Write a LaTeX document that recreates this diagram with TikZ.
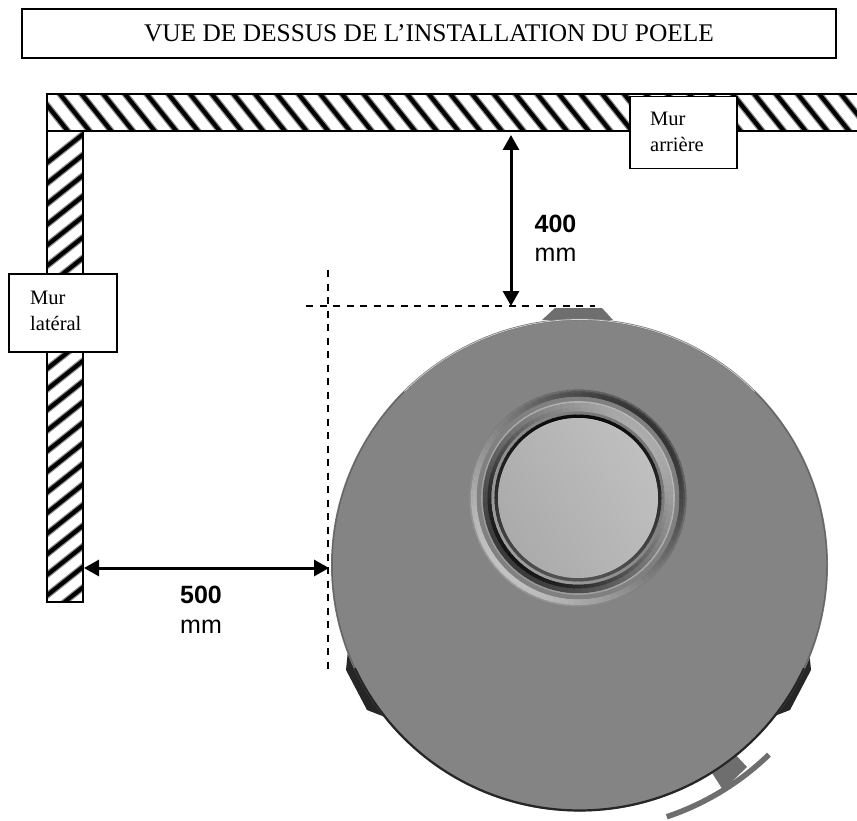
\documentclass[tikz,border=0pt]{standalone}
\usepackage{fontspec}
\setmainfont{Liberation Serif}
\newfontfamily\arialf{Liberation Sans}
\usetikzlibrary{arrows.meta}
\definecolor{stove}{HTML}{848484}
\definecolor{tabc}{HTML}{6E6E6E}
\newcommand{\rimarc}[4]{\draw[#1,line width=#2pt,line cap=round] plot[domain=#3:#4,samples=80] ({579.5+247.5*cos(\x)},{565+245.5*sin(\x)});}
% radius, width, base darkness, amplitude, direction of darkest part
\newcommand{\shadedring}[5]{\foreach \a in {0,4,...,356}{\pgfmathsetmacro\shadeval{#3+#4*cos(\a-#5)}\draw[black!\shadeval,line width=#2pt] ({578+#1*cos(\a)},{498+#1*sin(\a)}) -- ({578+#1*cos(\a+4.6)},{498+#1*sin(\a+4.6)});}}
\tikzset{
  boxnode/.style={draw=black,line width=1.5pt,fill=white,inner sep=0pt,align=left},
  hatchsoft/.style={line width=6.5pt,black!45},
  hatchline/.style={line width=4pt,black},
  wallframe/.style={draw=black,line width=1.5pt},
  dim/.style={line width=3pt,{Triangle[length=15pt,width=16pt]}-{Triangle[length=15pt,width=16pt]}},
  guide/.style={black,line width=1.5pt,dash pattern=on 7pt off 6.5pt},
  dimtext/.style={font=\arialf\fontsize{25}{30}\selectfont,inner sep=0pt},
  labeltext/.style={anchor=west,inner sep=0pt,align=left,font=\fontsize{20.5}{26}\selectfont}
}
\begin{document}
\begin{tikzpicture}[x=1pt,y=-1pt]
\useasboundingbox (0,0) rectangle (857,821);
% walls
\begin{scope}
\clip (47,94) rectangle (857,131);
\foreach \i in {0,...,40} {
  \draw[hatchsoft] ({35+\i*21.7},90) -- ({35+\i*21.7+36},135);
  \draw[hatchline] ({35+\i*21.7},90) -- ({35+\i*21.7+36},135);
}
\end{scope}
\begin{scope}
\clip (47,131) rectangle (83,602);
\foreach \i in {0,...,24} {
  \draw[hatchsoft] (43,{166+\i*20.6}) -- (87,{166+\i*20.6-35});
  \draw[hatchline] (43,{166+\i*20.6}) -- (87,{166+\i*20.6-35});
}
\end{scope}
\draw[wallframe] (857,94) -- (47,94) -- (47,602) -- (83,602) -- (83,131) -- (857,131);
\draw[wallframe] (47,131) -- (83,131);
% stove accessories
\fill[tabc] (542,320) -- (555,308) -- (602,308) -- (613,320) -- cycle;
\fill[black!85] (348,650) -- (346,670) -- (367,710) -- (385,717) -- (400,700) -- cycle;
\fill[black!85] (809,650) -- (811,670) -- (790,710) -- (772,717) -- (757,700) -- cycle;
\fill[tabc] (733,752) -- (747,767) -- (723,790) -- (712,773) -- cycle;
\draw[tabc,line width=5.5pt] plot[domain=46:71.4,samples=30] ({580+272*cos(\x)},{559+272*sin(\x)});
% stove body
\fill[stove] (579.5,565) ellipse [x radius=248.5,y radius=246.5];
\rimarc{black!60}{1.3}{150}{400}
\rimarc{black!18}{0.8}{225}{315}
\rimarc{black!85}{2.2}{25}{155}
% collar rings
\coordinate (ringc) at (578,498);
\shadedring{108}{1.3}{52}{12}{315}
\shadedring{106.3}{1.6}{50}{25}{315}
\shadedring{103.5}{4.5}{52}{28}{315}
\shadedring{99}{4.5}{50}{0}{0}
\shadedring{96}{1.8}{34}{6}{135}
\shadedring{92.5}{5.5}{55}{22}{135}
\shadedring{88.5}{4}{62}{30}{135}
\shadedring{85}{3}{46}{8}{315}
\shadedring{81.8}{3.5}{82}{14}{270}
\shade[top color=black!25,bottom color=black!33,shading angle=-60] (ringc) circle (80);
% guides
\coordinate (gh1) at (306,306);
\coordinate (gh2) at (595,306);
\coordinate (gv1) at (328,270);
\coordinate (gv2) at (328,672);
\draw[guide] (gh1) -- (gh2);
\draw[guide] (gv1) -- (gv2);
% dimensions
\coordinate (w1) at (511,135);
\coordinate (s1) at (511,306);
\coordinate (w2) at (84,568);
\coordinate (s2) at (329,568);
\draw[dim] (w1) -- (s1);
\draw[dim] (w2) -- (s2);
\node[dimtext,anchor=center] (n400) at (555.5,224) {\textbf{400}};
\node[dimtext,anchor=center] (m400) at (555.5,255) {mm};
\node[dimtext,anchor=center] (n500) at (201,595) {\textbf{500}};
\node[dimtext,anchor=center] (m500) at (201,627) {mm};
% boxes
\node[boxnode,minimum width=814pt,minimum height=49pt,align=center,font=\fontsize{25.4}{30}\selectfont] (title) at (429,33.5) {VUE DE DESSUS DE L’INSTALLATION DU POELE};
\node[boxnode,minimum width=108pt,minimum height=78pt] (lat) at (63,313) {};
\node[labeltext] (latt) at (30,311) {Mur\\latéral};
\node[boxnode,minimum width=107pt,minimum height=72pt] (arr) at (683.5,132.5) {};
\node[labeltext] (arrt) at (650,132) {Mur\\arrière};
\end{tikzpicture}
\end{document}
